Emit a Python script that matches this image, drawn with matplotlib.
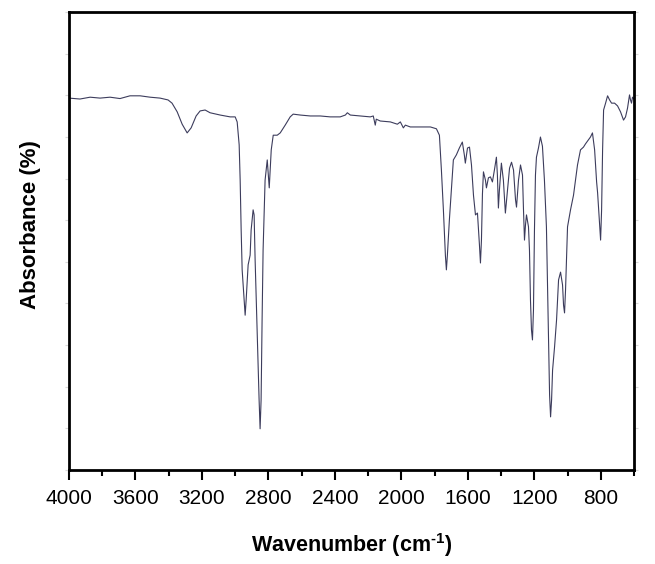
import matplotlib
matplotlib.use("Agg")
import matplotlib.pyplot as plt
import numpy as np

# Spectrum (wavenumber in cm-1, relative absorbance units)
wavenumber = [
    4000, 3934, 3873, 3813, 3753, 3693, 3633, 3572, 3512, 3452, 3404, 3380, 3349, 3319,
    3289, 3265, 3235, 3211, 3181, 3151, 3090, 3030, 3000, 2988, 2976, 2970, 2964, 2958,
    2946, 2940, 2934, 2922, 2910, 2904, 2892, 2886, 2880, 2868, 2856, 2850, 2844, 2838,
    2832, 2820, 2807, 2795, 2783, 2771, 2747, 2729, 2699, 2669, 2651, 2608, 2548, 2488,
    2428, 2368, 2337, 2325, 2307, 2247, 2187, 2169, 2157, 2151, 2127, 2066, 2024, 2006,
    1988, 1976, 1946, 1886, 1825, 1789, 1771, 1759, 1747, 1735, 1729, 1723, 1711, 1699,
    1687, 1669, 1651, 1633, 1621, 1615, 1602, 1590, 1578, 1566, 1554, 1542, 1530, 1524,
    1518, 1512, 1506, 1494, 1488, 1476, 1464, 1452, 1440, 1428, 1422, 1416, 1410, 1398,
    1386, 1374, 1361, 1349, 1337, 1325, 1313, 1307, 1295, 1283, 1271, 1265, 1259, 1253,
    1247, 1235, 1229, 1223, 1217, 1211, 1205, 1199, 1193, 1187, 1175, 1163, 1151, 1139,
    1127, 1120, 1114, 1108, 1102, 1096, 1090, 1078, 1066, 1054, 1042, 1030, 1024, 1018,
    1012, 1000, 982, 964, 940, 922, 904, 892, 874, 862, 850, 837, 825, 819,
    807, 801, 795, 789, 783, 771, 759, 747, 735, 717, 699, 681, 663, 651,
    639, 627, 621, 615, 609, 600,
]
absorbance = [
    81.2, 81.0, 81.4, 81.2, 81.4, 81.1, 81.7, 81.7, 81.4, 81.2, 80.8, 80.1, 78.2, 75.5,
    73.6, 74.7, 77.3, 78.4, 78.6, 78.0, 77.5, 77.1, 77.1, 76.0, 71.0, 63.3, 52.4, 43.7,
    37.1, 33.8, 37.1, 44.8, 46.9, 52.4, 56.8, 55.7, 45.9, 30.6, 15.3, 9.0, 15.3, 32.8,
    48.0, 63.3, 67.7, 61.6, 69.9, 73.1, 73.1, 73.6, 75.3, 77.1, 77.7, 77.5, 77.3, 77.3,
    77.1, 77.1, 77.5, 78.0, 77.5, 77.3, 77.1, 77.3, 75.3, 76.6, 76.2, 76.0, 75.5, 76.0,
    74.7, 75.3, 74.9, 74.9, 74.9, 74.5, 73.1, 65.5, 56.8, 46.9, 43.7, 46.9, 54.6, 61.1,
    67.7, 68.8, 70.3, 71.6, 68.8, 67.0, 70.3, 70.5, 66.6, 60.0, 55.7, 56.1, 49.1, 45.2,
    50.2, 60.3, 65.1, 63.3, 61.6, 63.8, 64.0, 62.9, 65.5, 68.3, 64.4, 57.2, 61.1, 67.0,
    63.3, 56.1, 61.1, 65.9, 67.2, 65.5, 59.0, 57.4, 63.3, 66.6, 64.4, 56.8, 50.2, 53.5,
    55.7, 53.1, 48.0, 37.1, 30.6, 28.4, 34.9, 52.4, 64.4, 68.3, 70.3, 72.7, 70.7, 63.3,
    53.1, 39.3, 26.2, 16.4, 11.6, 15.3, 21.8, 26.9, 32.8, 41.5, 43.2, 40.4, 36.0, 34.3,
    39.3, 53.1, 56.8, 60.0, 66.6, 69.9, 70.5, 71.2, 72.1, 72.7, 73.6, 69.9, 62.9, 60.5,
    53.5, 50.2, 56.8, 69.9, 78.6, 80.1, 81.7, 80.8, 80.1, 80.1, 79.5, 78.2, 76.4, 77.1,
    79.0, 81.9, 80.8, 80.1, 81.4, 81.0,
]
xticks = [4000, 3600, 3200, 2800, 2400, 2000, 1600, 1200, 800]

plt.rcParams["font.family"] = ["Liberation Sans", "DejaVu Sans"]
plt.rcParams["mathtext.fontset"] = "custom"
plt.rcParams["mathtext.rm"] = "Liberation Sans:bold"
plt.rcParams["mathtext.bf"] = "Liberation Sans:bold"

fig = plt.figure(figsize=(6.55, 5.64), dpi=100)
ax = fig.add_axes([69 / 655, 1 - 470 / 564, (634 - 69) / 655, (470 - 12) / 564])

ax.plot(wavenumber, absorbance, color="#3c3c5c", lw=0.8)

ax.set_xlim(4000, 600)
ax.set_ylim(0, 100)
ax.set_xticks(xticks)
ax.set_xticks(np.arange(4000, 599, -200), minor=True)
ax.set_xticklabels([str(t) for t in xticks])
ax.set_yticks(np.linspace(0, 100, 12))
ax.set_yticklabels([])
ax.tick_params(axis="x", which="major", direction="out", length=7, width=1.5, labelsize=15, pad=7)
ax.tick_params(axis="x", which="minor", direction="out", length=4, width=1.5)
ax.tick_params(axis="y", which="major", direction="out", length=3, width=0.8, color="#d8d8d8",
               left=True, right=True)
for s in ax.spines.values():
    s.set_linewidth(2)

ax.set_xlabel("Wavenumber (cm$^{\\text{-1}}$)", fontsize=15.5, fontweight="bold", labelpad=16)
ax.set_ylabel("Absorbance (%)", fontsize=16, fontweight="bold")
ax.yaxis.set_label_coords(-0.05, 0.535)

fig.savefig("out.png", dpi=100)
